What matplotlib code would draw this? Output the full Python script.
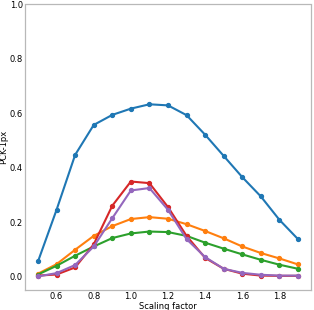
import matplotlib

matplotlib.use("Agg")
import matplotlib.pyplot as plt

scales = [0.5, 0.6, 0.7, 0.8, 0.9, 1.0, 1.1, 1.2, 1.3, 1.4, 1.5, 1.6, 1.7, 1.8, 1.9]

blue = [0.055, 0.245, 0.447, 0.557, 0.594, 0.617, 0.633, 0.629, 0.593, 0.521,
        0.443, 0.365, 0.294, 0.208, 0.137]
orange = [0.010, 0.045, 0.098, 0.149, 0.185, 0.211, 0.218, 0.212, 0.192, 0.167,
          0.140, 0.110, 0.086, 0.066, 0.044]
green = [0.007, 0.039, 0.076, 0.110, 0.141, 0.158, 0.165, 0.163, 0.149, 0.124,
         0.102, 0.081, 0.061, 0.043, 0.028]
red = [0.003, 0.007, 0.033, 0.118, 0.260, 0.349, 0.343, 0.255, 0.149, 0.068,
       0.028, 0.010, 0.003, 0.002, 0.002]
purple = [0.000, 0.012, 0.042, 0.110, 0.214, 0.316, 0.325, 0.245, 0.137, 0.071,
          0.028, 0.013, 0.006, 0.003, 0.003]

series = [
    (blue, "#1f77b4"),
    (orange, "#ff7f0e"),
    (green, "#2ca02c"),
    (red, "#d62728"),
    (purple, "#9467bd"),
]

fig = plt.figure(figsize=(3.14, 3.10), dpi=100)
ax = fig.add_axes([25 / 314, 20 / 310, 286 / 314, 285.5 / 310])

for values, color in series:
    ax.plot(scales, values, color=color, marker="o", markersize=2.8, linewidth=1.5)

ax.set_ylim(-0.05, 1.0)
ax.set_xticks([0.6, 0.8, 1.0, 1.2, 1.4, 1.6, 1.8])
ax.set_yticks([0.0, 0.2, 0.4, 0.6, 0.8, 1.0])
ax.tick_params(length=0, labelsize=6, pad=1.5)
ax.set_xlabel("Scaling factor", fontsize=6, labelpad=1)
ax.set_ylabel("PCK-1px", fontsize=6, labelpad=1)
for spine in ax.spines.values():
    spine.set_color("#b8b8b8")
    spine.set_linewidth(0.9)

fig.savefig("out.png", dpi=100)
